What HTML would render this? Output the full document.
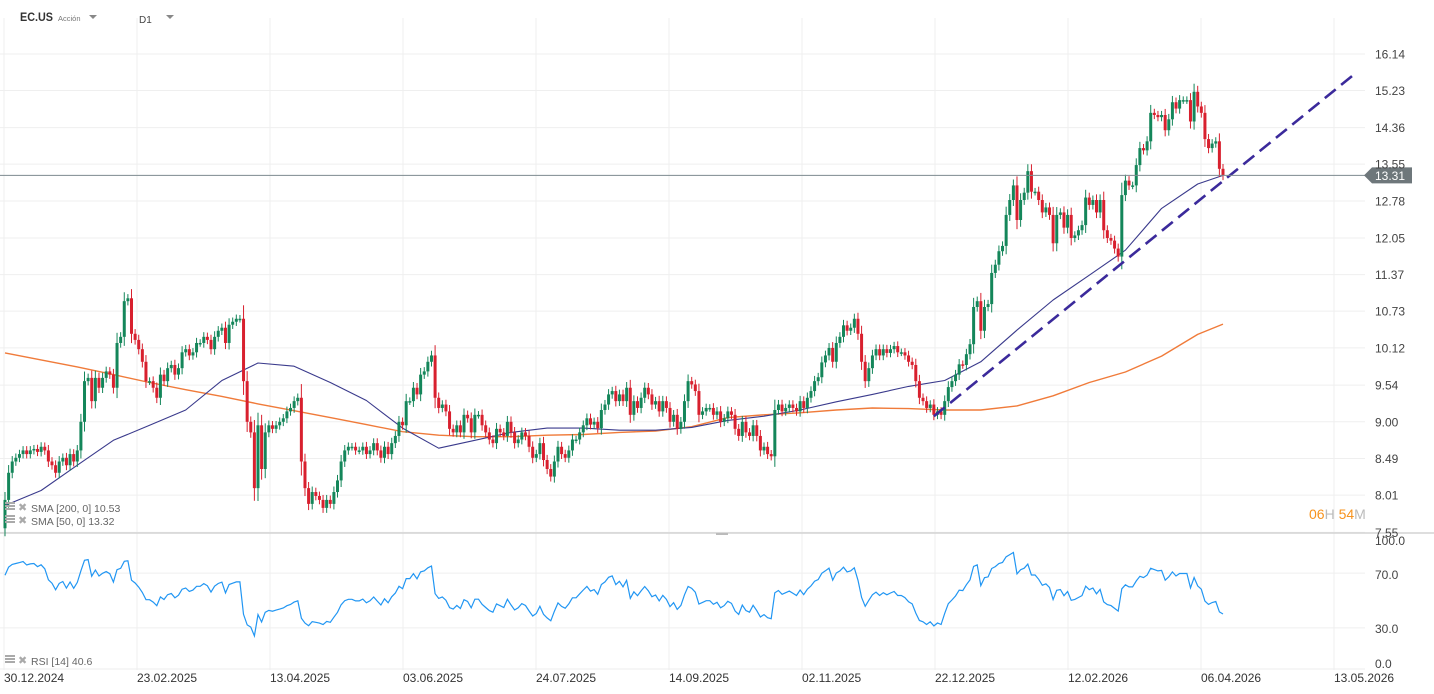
<!DOCTYPE html>
<html><head><meta charset="utf-8">
<style>
html,body{margin:0;padding:0;background:#fff;width:1434px;height:694px;overflow:hidden;font-family:"Liberation Sans",Arial,sans-serif;}
svg text{font-family:"Liberation Sans",Arial,sans-serif;}
</style></head>
<body>
<svg id="chart" xmlns="http://www.w3.org/2000/svg" width="1434" height="694" viewBox="0 0 1434 694">
  <g id="grid"></g>
  <g id="header">
    <text x="20" y="21" font-size="11.5" font-weight="bold" fill="#333" textLength="33" lengthAdjust="spacingAndGlyphs">EC.US</text>
    <text x="58" y="21" font-size="7.5" fill="#777">Acción</text>
    <path d="M89 15 L97 15 L93 19 Z" fill="#888"/>
    <text x="139" y="23" font-size="10" fill="#444">D1</text>
    <path d="M166 15 L174 15 L170 19 Z" fill="#888"/>
  </g>
  <g id="sma200"></g>
  <g id="sma50"></g>
  <g id="candles"></g>
  <g id="trend"></g>
  <g id="price"></g>
  <g id="yaxis"></g>
  <g id="rsi"></g>
  <g id="xaxis"></g>
  <g>
    <rect x="5" y="502" width="10" height="2" fill="#aaa"/><rect x="5" y="505" width="10" height="2" fill="#aaa"/><rect x="5" y="508" width="10" height="2" fill="#aaa"/>
    <text x="18" y="511" font-size="11" fill="#aaa">✖</text>
    <text x="31" y="512" font-size="10.5" fill="#666">SMA [200, 0] 10.53</text>
  </g>
  <g>
    <rect x="5" y="515" width="10" height="2" fill="#aaa"/><rect x="5" y="518" width="10" height="2" fill="#aaa"/><rect x="5" y="521" width="10" height="2" fill="#aaa"/>
    <text x="18" y="524" font-size="11" fill="#aaa">✖</text>
    <text x="31" y="525" font-size="10.5" fill="#666">SMA [50, 0] 13.32</text>
  </g>
  <g>
    <rect x="5" y="655" width="10" height="2" fill="#aaa"/><rect x="5" y="658" width="10" height="2" fill="#aaa"/><rect x="5" y="661" width="10" height="2" fill="#aaa"/>
    <text x="18" y="664" font-size="11" fill="#aaa">✖</text>
    <text x="31" y="665" font-size="10.5" fill="#666">RSI [14] 40.6</text>
  </g>
  <text x="1309" y="519" font-size="14"><tspan fill="#f7931e">06</tspan><tspan fill="#bbb">H </tspan><tspan fill="#f7931e">54</tspan><tspan fill="#bbb">M</tspan></text>
</svg>
<script>
const closes = [
7.95,8.3,8.45,8.5,8.55,8.6,8.55,8.6,8.62,8.58,8.65,8.6,8.45,8.4,8.3,8.45,8.5,8.4,8.55,8.45,
8.6,9.0,9.6,9.65,9.3,9.65,9.5,9.65,9.75,9.7,9.5,10.2,10.3,10.9,10.95,10.35,10.25,10.1,9.9,9.6,
9.6,9.5,9.35,9.7,9.6,9.8,9.85,9.7,9.8,10.05,10.1,10.0,10.05,10.2,10.2,10.3,10.25,10.1,10.3,10.4,
10.45,10.2,10.5,10.55,10.6,10.6,
9.6,9.0,8.85,8.1,8.95,8.35,8.85,8.95,8.9,8.95,9.0,9.05,9.15,9.2,9.3,9.35,8.45,8.1,7.9,8.05,
8.0,7.95,7.85,7.95,7.9,8.05,8.2,8.45,8.6,8.65,8.65,8.6,8.6,8.65,8.55,8.6,8.7,8.6,8.5,8.65,
8.55,8.7,8.8,9.0,8.95,9.3,9.3,9.5,9.4,9.7,9.75,9.9,10.0,9.35,9.2,9.25,9.15,8.9,8.85,8.95,
8.85,9.1,9.05,8.85,9.1,9.1,8.95,8.85,8.75,8.7,8.9,8.85,8.8,9.0,8.85,8.7,8.75,8.85,8.8,8.65,8.5,8.55,
8.7,8.47,8.35,8.25,8.45,8.65,8.55,8.5,8.6,8.75,8.75,8.85,8.95,9.05,8.96,9.0,8.91,9.17,9.25,9.4,
9.45,9.3,9.4,9.3,9.5,9.1,9.3,9.2,9.35,9.5,9.4,9.25,9.3,9.15,9.3,9.2,9.0,9.1,8.9,9.0,
9.3,9.6,9.55,9.45,9.1,9.15,9.2,9.2,9.1,9.15,9.0,9.05,9.15,9.1,8.9,8.8,9.0,8.85,8.8,8.95,
8.8,8.6,8.65,8.55,8.52,9.17,9.25,9.15,9.2,9.25,9.2,9.15,9.3,9.2,9.35,9.45,9.6,9.66,9.89,10.0,
10.12,9.9,10.2,10.3,10.49,10.4,10.45,10.6,10.35,9.9,9.6,9.8,10.0,10.1,10.0,10.1,10.04,10.1,10.15,10.05,
10.05,10.0,9.9,9.85,9.6,9.35,9.3,9.2,9.25,9.1,
9.15,9.1,9.3,9.51,9.6,9.7,9.86,9.85,10.02,10.18,10.8,10.9,10.4,10.8,10.85,11.4,11.55,11.8,11.9,12.5,
12.8,13.1,12.4,12.8,12.95,13.4,12.97,12.97,12.8,12.55,12.65,12.5,11.95,12.5,12.55,12.25,12.5,12.05,12.1,12.2,
12.3,12.85,12.7,12.8,12.55,12.8,12.2,12.05,12.0,11.85,11.7,12.9,13.2,13.1,13.1,13.53,13.9,13.85,14.05,14.7,
14.65,14.6,14.65,14.3,14.55,14.95,14.8,15.0,15.0,15.0,14.5,15.2,14.85,14.7,14.1,13.9,14.0,14.05,13.45,13.31
];
const firstOpen = 7.6;
const smaIdx = [0,10,20,30,40,50,60,70,80,90,100,110,120,130,140,150,160,170,180,190,200,210,220,230,240,250,260,270,280,290,300,310,320,330,337];
const sma50 = [7.88,8.07,8.40,8.74,8.95,9.17,9.61,9.88,9.83,9.58,9.31,8.91,8.63,8.74,8.85,8.91,8.91,8.88,8.88,8.92,9.02,9.08,9.17,9.29,9.40,9.52,9.61,9.90,10.41,10.92,11.36,11.82,12.63,13.13,13.31];
const sma200 = [10.04,9.93,9.82,9.70,9.58,9.47,9.37,9.26,9.16,9.06,8.96,8.86,8.81,8.79,8.79,8.81,8.82,8.85,8.87,8.93,9.06,9.10,9.13,9.17,9.20,9.19,9.17,9.17,9.23,9.38,9.58,9.74,9.99,10.34,10.51];
const trendIdx = [257, 374];
const trendPrice = [9.08, 15.68];
const priceTicks = ["16.14","15.23","14.36","13.55","12.78","12.05","11.37","10.73","10.12","9.54","9.00","8.49","8.01","7.55"];
const rsiTicks = ["100.0","70.0","30.0","0.0"];
const dateLabels = ["30.12.2024","23.02.2025","13.04.2025","03.06.2025","24.07.2025","14.09.2025","02.11.2025","22.12.2025","12.02.2026","06.04.2026","13.05.2026"];

const NS="http://www.w3.org/2000/svg";
function mk(tag, attrs, parent){const e=document.createElementNS(NS,tag);for(const k in attrs)e.setAttribute(k,attrs[k]);parent.appendChild(e);return e;}
const n=closes.length;
const X0=5, X1=1223, step=(X1-X0)/(n-1);
const xOf=i=>X0+i*step;
const LNTOP=Math.log(16.14), K=629.7;
const yOf=p=>54+K*(LNTOP-Math.log(p));
const rsiY=v=>669-1.37*v;

const grid=document.getElementById('grid');
priceTicks.forEach(t=>{const y=yOf(parseFloat(t));
  const l=mk('line',{x1:0,x2:1365,y1:y,y2:y,stroke:'#efefef','stroke-width':1},grid);
  
  
});
[70,30].forEach(v=>{const y=rsiY(v);
  const l=mk('line',{x1:0,x2:1365,y1:y,y2:y,stroke:'#efefef','stroke-width':1},grid);
  
  
});
dateLabels.forEach((d,k)=>{const x=4+k*133;
  const l=mk('line',{x1:x,x2:x,y1:18,y2:670,stroke:'#efefef','stroke-width':1},grid);
  
  
});
mk('line',{x1:0,x2:1434,y1:533,y2:533,stroke:'#d4d4d4','stroke-width':1.5},grid);
mk('line',{x1:0,x2:1365,y1:669,y2:669,stroke:'#eee','stroke-width':1},grid);
mk('rect',{x:716,y:533,width:12,height:2,fill:'#bbb'},grid);

const cg=document.getElementById('candles');
for(let i=0;i<n;i++){
  const o=i===0?firstOpen:closes[i-1], c=closes[i];
  const up=c>=o; const col=up?'#14865a':'#d8202e';
  const hi=Math.max(o,c)*(1+0.006+0.15*Math.abs(c-o)/c), lo=Math.min(o,c)*(1-0.006-0.15*Math.abs(c-o)/c);
  const x=xOf(i);
  const g=mk('g',{},cg);
  
  
  mk('line',{x1:x,x2:x,y1:yOf(hi),y2:yOf(lo),stroke:col,'stroke-width':1},g);
  const yt=yOf(Math.max(o,c)), yb=yOf(Math.min(o,c));
  mk('rect',{x:x-1.5,y:yt,width:3,height:Math.max(1.5,yb-yt),fill:col},g);
}

function pathFrom(idx,vals){return idx.map((i,k)=>(k?'L':'M')+xOf(i).toFixed(1)+' '+yOf(vals[k]).toFixed(1)).join(' ');}
const p200=mk('path',{d:pathFrom(smaIdx,sma200),fill:'none',stroke:'#f07b3a','stroke-width':1.4,'stroke-linejoin':'round'},document.getElementById('sma200'));


const p50=mk('path',{d:pathFrom(smaIdx,sma50),fill:'none',stroke:'#3a3a8c','stroke-width':1.1,'stroke-linejoin':'round'},document.getElementById('sma50'));



const tl=mk('line',{x1:xOf(trendIdx[0]),y1:yOf(trendPrice[0]),x2:xOf(trendIdx[1]),y2:yOf(trendPrice[1]),stroke:'#3b2a9b','stroke-width':2.6,'stroke-dasharray':'14 7'},document.getElementById('trend'));



const pg=document.getElementById('price');
const last=closes[n-1], py=yOf(last);
mk('line',{x1:0,x2:1366,y1:py,y2:py,stroke:'#7d8a8f','stroke-width':1},pg);
const tag=mk('path',{d:`M1364 ${py} L1372 ${py-8} L1412 ${py-8} L1412 ${py+8} L1372 ${py+8} Z`,fill:'#6e777b'},pg);


const tt=mk('text',{x:1375,y:py+4.5,'font-size':12,fill:'#fff'},pg);


tt.textContent=last.toFixed(2);

const ya=document.getElementById('yaxis');
priceTicks.forEach(t=>{
  const y=yOf(parseFloat(t));
  if(Math.abs(y-py)<9) return;
  const e=mk('text',{x:1375,y:y+4.5,'font-size':12,fill:'#444'},ya);
  
  
  e.textContent=t;
});
const rsiLabelY=[545,579,633,668];
rsiTicks.forEach((t,k)=>{
  const e=mk('text',{x:1375,y:rsiLabelY[k],'font-size':12,fill:'#444'},ya);
  
  
  e.textContent=t;
});

const rg=document.getElementById('rsi');
let ag=0,al=0; const rsi=[];
const prev=[firstOpen].concat(closes);
for(let i=0;i<n;i++){
  const ch=closes[i]-prev[i]; const g=Math.max(ch,0), l=Math.max(-ch,0);
  if(i===0){ag=0.06;al=0.04;}
  ag=(ag*13+g)/14; al=(al*13+l)/14;
  rsi.push(al===0?100:100-100/(1+ag/al));
}
const rp=mk('path',{d:rsi.map((v,i)=>(i?'L':'M')+xOf(i).toFixed(1)+' '+rsiY(v).toFixed(1)).join(' '),fill:'none',stroke:'#2196f3','stroke-width':1.2},rg);



const xa=document.getElementById('xaxis');
dateLabels.forEach((d,k)=>{
  const e=mk('text',{x:4+k*133,y:682,'font-size':12,fill:'#333'},xa);
  
  
  e.textContent=d;
});
</script>
</body></html>
